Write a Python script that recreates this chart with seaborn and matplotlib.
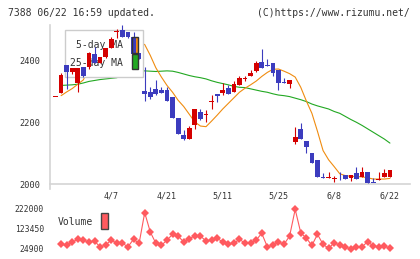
import numpy as np
import pandas as pd
import matplotlib
matplotlib.use('Agg')
import matplotlib.pyplot as plt
import seaborn as sns
from matplotlib.patches import Rectangle

# daily candles
opens = [2283, 2295, 2384, 2362, 2325, 2379, 2379, 2419, 2389, 2411,
         2438, 2490, 2497, 2491, 2475, 2422, 2301, 2298, 2305, 2303,
         2303, 2280, 2212, 2158, 2146, 2190, 2233, 2224, 2265, 2290,
         2292, 2309, 2298, 2319, 2340, 2349, 2365, 2395, 2382, 2389,
         2368, 2328, 2323, 2137, 2176, 2140, 2099, 2077, 2021, 2018,
         2016, 2030, 2029, 2018, 2034, 2024, 2039, 2007, 2014, 2024, 2024]
highs = [2283, 2359, 2384, 2375, 2375, 2379, 2426, 2441, 2411, 2440,
         2475, 2500, 2513, 2491, 2491, 2422, 2379, 2314, 2335, 2314,
         2314, 2280, 2212, 2174, 2187, 2241, 2241, 2239, 2287, 2291,
         2325, 2319, 2332, 2348, 2348, 2368, 2398, 2435, 2403, 2389,
         2368, 2341, 2335, 2183, 2196, 2140, 2099, 2077, 2034, 2038,
         2026, 2040, 2030, 2029, 2056, 2056, 2039, 2018, 2038, 2048, 2045]
lows = [2283, 2295, 2305, 2354, 2298, 2344, 2371, 2389, 2389, 2405,
        2438, 2470, 2475, 2470, 2421, 2403, 2269, 2273, 2287, 2292,
        2269, 2212, 2161, 2142, 2145, 2176, 2208, 2201, 2241, 2266,
        2287, 2290, 2298, 2319, 2332, 2349, 2362, 2375, 2380, 2349,
        2303, 2325, 2311, 2129, 2144, 2099, 2069, 2022, 2019, 2018,
        2008, 2013, 2017, 2011, 2017, 2024, 2004, 2005, 2013, 2024, 2024]
closes = [2283, 2352, 2362, 2375, 2375, 2349, 2424, 2389, 2411, 2440,
          2468, 2492, 2475, 2473, 2421, 2403, 2290, 2282, 2289, 2292,
          2269, 2212, 2161, 2145, 2180, 2241, 2210, 2226, 2267, 2285,
          2303, 2290, 2323, 2343, 2342, 2359, 2391, 2375, 2380, 2357,
          2325, 2325, 2335, 2151, 2144, 2118, 2069, 2022, 2019, 2024,
          2018, 2028, 2017, 2029, 2017, 2038, 2004, 2005, 2016, 2037, 2045]

ma5 = [np.nan, 2285, 2297, 2308, 2322, 2336, 2377, 2382, 2390, 2403,
       2426, 2440, 2457, 2470, 2466, 2455, 2450, 2415, 2375, 2345,
       2318, 2296, 2270, 2250, 2225, 2200, 2187, 2185, 2203, 2222,
       2242, 2260, 2278, 2296, 2309, 2320, 2332, 2347, 2360, 2370,
       2371, 2364, 2356, 2345, 2312, 2268, 2228, 2170, 2108, 2078,
       2056, 2033, 2027, 2025, 2024, 2023, 2020, 2016, 2016, 2016, 2018]
ma25 = [np.nan, 2318, 2319, 2320, 2322, 2326, 2331, 2334, 2337, 2339,
        2341, 2343, 2350, 2357, 2361, 2364, 2365, 2364, 2363, 2364,
        2365, 2364, 2360, 2355, 2350, 2346, 2343, 2339, 2333, 2328,
        2324, 2320, 2315, 2312, 2311, 2307, 2303, 2299, 2296, 2291,
        2287, 2285, 2282, 2277, 2272, 2266, 2258, 2252, 2247, 2242,
        2234, 2228, 2218, 2208, 2199, 2189, 2178, 2167, 2156, 2145, 2132]

volume = [np.nan, 48000, 43000, 59000, 73000, 68000, 59000, 64000, 35000, 45000,
          69000, 53000, 53000, 36000, 73000, 53000, 204000, 109000, 53000, 43000,
          69000, 97000, 89000, 59000, 76000, 89000, 89000, 64000, 69000, 78000,
          59000, 48000, 53000, 73000, 53000, 53000, 69000, 102000, 36000, 43000,
          59000, 48000, 89000, 220000, 105000, 78000, 43000, 97000, 48000, 28000,
          56000, 43000, 36000, 23000, 36000, 36000, 61000, 40000, 35000, 40000, 28000]

date_labels = ['4/7', '4/21', '5/11', '5/25', '6/8', '6/22']
date_pos = [10, 20, 30, 40, 50, 60]
price_ticks = [2000, 2200, 2400]
vol_ticks = [24900, 123450, 222000]

df = pd.DataFrame({'day': np.arange(len(closes)), 'open': opens, 'high': highs,
                   'low': lows, 'close': closes, 'ma5': ma5, 'ma25': ma25,
                   'volume': volume})

sns.set_style('white')
plt.rcParams['font.family'] = ['DejaVu Sans Mono']

W, H = 420, 259
fig = plt.figure(figsize=(W / 100, H / 100), dpi=100)
ax = fig.add_axes([50 / W, 75 / H, 360 / W, 159 / H])
axv = fig.add_axes([50 / W, 4 / H, 360 / W, 50 / H])

RED = '#d40000'
BLUE = '#3c3cbe'
ORANGE = '#f08c10'
GREEN = '#22a822'
GRID = '#d4d4d4'
TXT = '#333333'

xlim = (-0.99, 63.6)

# candles
up = df['close'] >= df['open']
cols = np.where(up, RED, BLUE)
ax.vlines(df['day'], df['low'], df['high'], colors=cols, lw=0.8, zorder=3)
diff = (df['close'] - df['open']).abs()
body_h = np.maximum(diff, 3.0)
body_b = np.minimum(df['open'], df['close']) - (body_h - diff) / 2
ax.bar(df['day'], body_h, bottom=body_b, width=0.85, color=cols, lw=0, zorder=3)

# moving averages
sns.lineplot(data=df, x='day', y='ma25', ax=ax, color=GREEN, lw=0.8, zorder=1)
sns.lineplot(data=df, x='day', y='ma5', ax=ax, color=ORANGE, lw=0.8, zorder=1)

# legend box (lines go under it, candles over it)
ax.add_patch(Rectangle((15 / 360, 107 / 159), 78 / 360, 47 / 159, transform=ax.transAxes,
                       facecolor='white', edgecolor='#cccccc', lw=1, zorder=2))
ax.text(73 / 360, 139 / 159, '5-day MA', transform=ax.transAxes, ha='right', va='center',
        fontsize=7, color=TXT, zorder=2.6)
ax.text(73 / 360, 121 / 159, '25-day MA', transform=ax.transAxes, ha='right', va='center',
        fontsize=7, color=TXT, zorder=2.6)
ax.add_patch(Rectangle((81.5 / 360, 131 / 159), 6 / 360, 16 / 159, transform=ax.transAxes,
                       facecolor=ORANGE, edgecolor='none', zorder=2.5))
ax.add_patch(Rectangle((81.5 / 360, 131 / 159), 6 / 360, 16 / 159, transform=ax.transAxes,
                       facecolor='none', edgecolor='#333333', lw=1, zorder=4))
ax.add_patch(Rectangle((81.5 / 360, 115 / 159), 6 / 360, 15 / 159, transform=ax.transAxes,
                       facecolor=GREEN, edgecolor='#333333', lw=1, zorder=4))

ax.set_xlim(xlim)
ax.set_ylim(2000, 2513)
ax.set_xticks(4.755 + 5.814 * np.arange(11))
ax.set_yticks(price_ticks)
ax.tick_params(axis='x', direction='inout', length=6.5, width=1, color=GRID,
               labelbottom=False)
ax.tick_params(axis='y', direction='out', length=3.6, width=1, color=GRID,
               labelsize=6.2, labelcolor=TXT, pad=3.5)
ax.set_xlabel('')
ax.set_ylabel('')
for s in ['top', 'right']:
    ax.spines[s].set_visible(False)
for s in ['left', 'bottom']:
    ax.spines[s].set_color(GRID)
    ax.spines[s].set_linewidth(1.2)
ax.spines['left'].set_bounds(1984, 2513)

# volume panel
sns.lineplot(data=df, x='day', y='volume', ax=axv, color='#ff5a5f', lw=0.8,
             marker='D', markersize=4, markeredgewidth=0)
axv.set_xlim(xlim)
axv.set_ylim(24900 - 6 * 4927.5, 222000 + 4 * 4927.5)
axv.set_yticks(vol_ticks)
axv.set_yticklabels([str(v) for v in vol_ticks])
axv.xaxis.set_ticks_position('top')
axv.set_xticks(date_pos)
axv.set_xticklabels(date_labels)
axv.tick_params(axis='x', length=0, pad=3.0, labelsize=6, labelcolor=TXT)
axv.tick_params(axis='y', length=0, pad=4.3, labelsize=5.8, labelcolor=TXT)
axv.set_xlabel('')
axv.set_ylabel('')
for s in axv.spines.values():
    s.set_visible(False)
axv.text(8 / 360, 33 / 50, 'Volume', transform=axv.transAxes, ha='left', va='center',
         fontsize=7, color=TXT)
axv.add_patch(Rectangle((51 / 360, 26.5 / 50), 6.5 / 360, 15.5 / 50, transform=axv.transAxes,
                        facecolor='#ff5a5f', edgecolor='#444444', lw=1))

fig.text(8 / W, 1 - 12.7 / H, '7388 06/22 16:59 updated.', ha='left', va='center',
         fontsize=7, color=TXT)
fig.text(410 / W, 1 - 12.7 / H, '(C)https://www.rizumu.net/', ha='right', va='center',
         fontsize=7, color=TXT)

fig.savefig('out.png', dpi=100)
